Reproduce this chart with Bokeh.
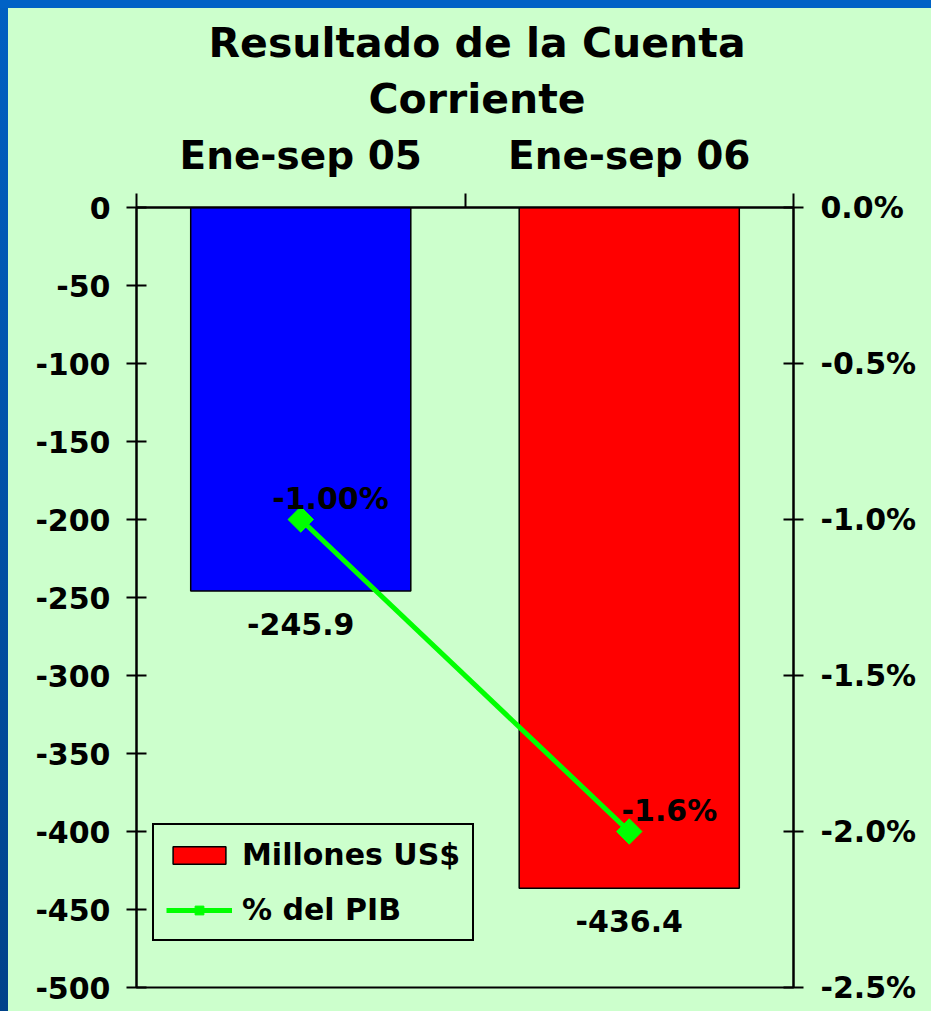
import math
from bokeh.plotting import figure
from bokeh.models import (Range1d, LinearAxis, FixedTicker, ColumnDataSource,
                          Legend, LegendItem, PrintfTickFormatter, Title)
from bokeh.core.properties import value
from bokeh.embed import file_html
from bokeh.resources import INLINE

# ---- data ----
categories = ["Ene-sep 05", "Ene-sep 06"]
millones = [-245.9, -436.4]
millones_labels = ["-245.9", "-436.4"]
pct_pib = [-1.0, -2.0]
pct_labels = ["-1.00%", "-1.6%"]
bar_colors = ["#0000FF", "#FF0000"]
left_ticks = [0, -50, -100, -150, -200, -250, -300, -350, -400, -450, -500]
right_ticks = [0.0, -0.5, -1.0, -1.5, -2.0, -2.5]
title_lines = ["Resultado de la Cuenta", "Corriente"]

FONT = "DejaVu Sans"
BG = "#CCFFCC"

x_pos = [i + 0.5 for i in range(len(categories))]
bounds = [float(i) for i in range(len(categories) + 1)]

src = ColumnDataSource(dict(x=x_pos, top=millones, lab=millones_labels,
                            color=bar_colors, pct=pct_pib, plab=pct_labels))

p = figure(width=923, height=1003, output_backend="svg", toolbar_location=None,
           x_range=Range1d(0, 2), y_range=Range1d(-500, 0),
           x_axis_location=None, y_axis_location="left",
           min_border_left=128, min_border_right=138, min_border_top=199,
           min_border_bottom=24)
p.extra_y_ranges = {"pct": Range1d(-2.5, 0)}
p.grid.visible = False
p.background_fill_color = BG
p.border_fill_color = BG
p.outline_line_color = "black"
p.outline_line_width = 2

# title (first line is the plot title, second line an extra Title)
p.title.text = title_lines[0]
p.title.align = "left"
p.title.offset = 72
p.title.text_font = FONT
p.title.text_font_size = "41px"
p.title.text_font_style = "bold"
p.title.text_color = "black"
p.title.standoff = -3

# left axis
ya = p.yaxis[0]
ya.ticker = FixedTicker(ticks=left_ticks)
ya.formatter = PrintfTickFormatter(format="%d")
ya.major_tick_in = 10
ya.major_tick_out = 10
ya.minor_tick_in = 0
ya.minor_tick_out = 0
ya.axis_line_width = 2
ya.major_tick_line_width = 2
ya.major_label_text_font = FONT
ya.major_label_text_font_size = "30px"
ya.major_label_text_font_style = "bold"
ya.major_label_text_color = "black"
ya.major_label_standoff = 16

# right axis
ra = LinearAxis(y_range_name="pct", ticker=FixedTicker(ticks=right_ticks),
                formatter=PrintfTickFormatter(format="%.1f%%"))
ra.major_tick_in = 10
ra.major_tick_out = 10
ra.minor_tick_in = 0
ra.minor_tick_out = 0
ra.axis_line_width = 2
ra.major_tick_line_width = 2
ra.major_label_text_font = FONT
ra.major_label_text_font_size = "30px"
ra.major_label_text_font_style = "bold"
ra.major_label_text_color = "black"
ra.major_label_standoff = 17
p.add_layout(ra, "right")

# top category axis
ta = LinearAxis(ticker=FixedTicker(ticks=x_pos, minor_ticks=bounds),
                major_label_overrides={x: c for x, c in zip(x_pos, categories)})
ta.major_tick_in = 0
ta.major_tick_out = 0
ta.minor_tick_in = 0
ta.minor_tick_out = 14
ta.minor_tick_line_width = 2
ta.axis_line_width = 2
ta.major_label_text_font = FONT
ta.major_label_text_font_size = "39px"
ta.major_label_text_font_style = "bold"
ta.major_label_text_color = "black"
ta.major_label_standoff = 16
p.add_layout(ta, "above")

t2 = Title(text=title_lines[1], align="left", offset=232, text_font=FONT,
           text_font_size="41px", text_font_style="bold", text_color="black",
           standoff=14)
p.add_layout(t2, "above")

# bars
bars = p.vbar(x="x", top="top", bottom=0, width=0.67, source=src,
              fill_color="color", line_color="black", line_width=1.5)
p.text(x="x", y="top", text="lab", source=src, text_align="center",
       text_baseline="middle", y_offset=33, text_font=value(FONT),
       text_font_size="30px", text_font_style="bold", text_color="black")

# line
line_r = p.line(x="x", y="pct", source=src, y_range_name="pct",
                line_color="#00FF00", line_width=5)
sc = p.scatter(x="x", y="pct", source=src, y_range_name="pct", marker="square",
               angle=math.pi / 4, size=18, fill_color="#00FF00", line_color="#00FF00")
p.text(x="x", y="pct", text="plab", source=src, y_range_name="pct",
       text_align="right", text_baseline="middle", x_offset=88, y_offset=-21,
       text_font=value(FONT), text_font_size="30px", text_font_style="bold",
       text_color="black")

legend = Legend(items=[LegendItem(label="Millones US$", renderers=[bars], index=1),
                       LegendItem(label="% del PIB", renderers=[line_r, sc])],
                location=(16, 46))
legend.label_text_font = FONT
legend.label_text_font_size = "30px"
legend.label_text_font_style = "bold"
legend.label_text_color = "black"
legend.glyph_width = 66
legend.glyph_height = 22
legend.label_height = 30
legend.spacing = 20
legend.padding = 12
legend.margin = 0
legend.label_standoff = 10
legend.border_line_color = "black"
legend.border_line_alpha = 1
legend.border_line_width = 2
legend.background_fill_color = BG
legend.background_fill_alpha = 1
p.add_layout(legend)

html = file_html(p, INLINE, title="Resultado de la Cuenta Corriente")
style = ("<style>html{background:"
         "linear-gradient(#0062C6,#0062C6) left top/100% 8px no-repeat,"
         "linear-gradient(#0060C2,#00428A) left top/8px 100% no-repeat,"
         "#CCFFCC !important;}"
         "body{padding:8px 0 0 8px !important;background:transparent !important;}"
         "</style>")
html = html.replace("</head>", style + "</head>", 1)
open("out.html", "w").write(html)
